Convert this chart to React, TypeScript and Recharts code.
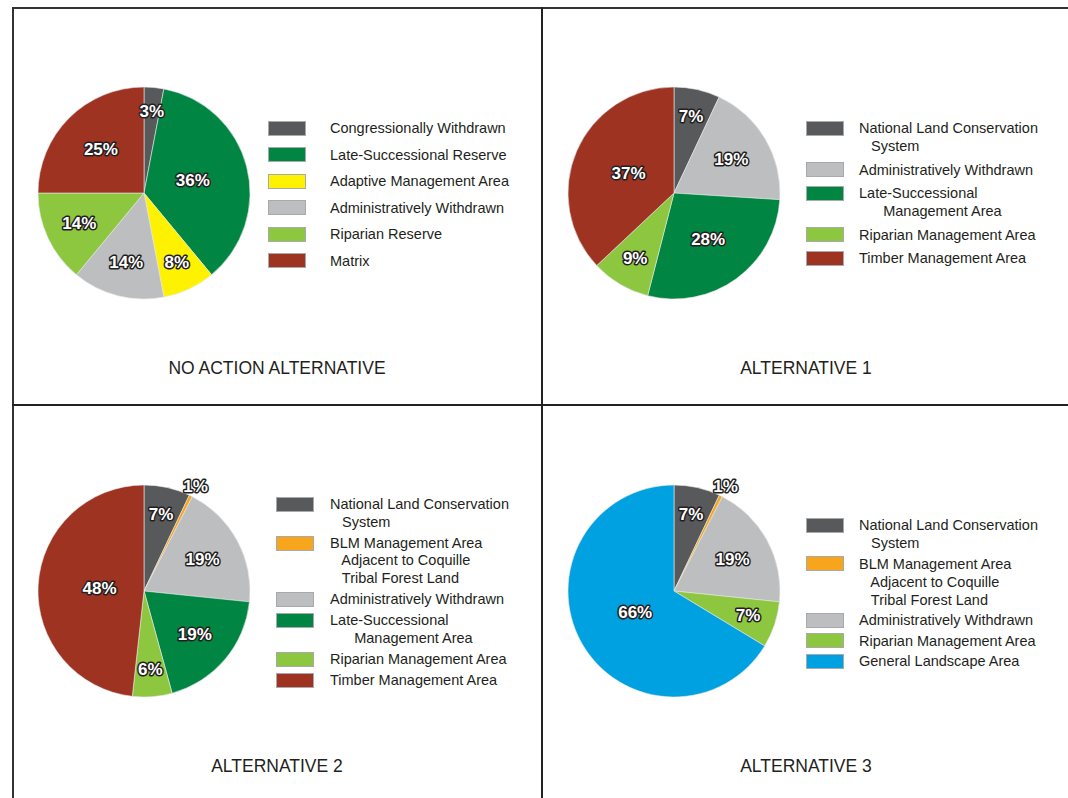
import { PieChart, Pie, Cell, Legend } from "recharts";

// ---- data ----
const noActionNames = [
  "Congressionally Withdrawn",
  "Late-Successional Reserve",
  "Adaptive Management Area",
  "Administratively Withdrawn",
  "Riparian Reserve",
  "Matrix",
];
const noActionValues = [3, 36, 8, 14, 14, 25];
const noActionLabels = ["3%", "36%", "8%", "14%", "14%", "25%"];

const alt1Names = [
  "National Land Conservation\n   System",
  "Administratively Withdrawn",
  "Late-Successional\n      Management Area",
  "Riparian Management Area",
  "Timber Management Area",
];
const alt1Values = [7, 19, 28, 9, 37];
const alt1Labels = ["7%", "19%", "28%", "9%", "37%"];

const alt2Names = [
  "National Land Conservation\n   System",
  "BLM Management Area\n   Adjacent to Coquille\n   Tribal Forest Land",
  "Administratively Withdrawn",
  "Late-Successional\n      Management Area",
  "Riparian Management Area",
  "Timber Management Area",
];
const alt2Values = [7, 0.5, 19, 19, 6, 48];
const alt2Labels = ["7%", "1%", "19%", "19%", "6%", "48%"];

const alt3Names = [
  "National Land Conservation\n   System",
  "BLM Management Area\n   Adjacent to Coquille\n   Tribal Forest Land",
  "Administratively Withdrawn",
  "Riparian Management Area",
  "General Landscape Area",
];
const alt3Values = [7, 0.5, 19, 7, 66];
const alt3Labels = ["7%", "1%", "19%", "7%", "66%"];

const titles = ["NO ACTION ALTERNATIVE", "ALTERNATIVE 1", "ALTERNATIVE 2", "ALTERNATIVE 3"];

// ---- colours ----
const colorFor = (name: string): string => {
  const n = name.replace(/\s+/g, " ");
  if (n.startsWith("Congressionally") || n.startsWith("National")) return "#58595b";
  if (n.startsWith("Late-Successional")) return "#008542";
  if (n.startsWith("Adaptive")) return "#fff200";
  if (n.startsWith("Administratively")) return "#bcbec0";
  if (n.startsWith("Riparian")) return "#8dc63f";
  if (n.startsWith("Matrix") || n.startsWith("Timber")) return "#9e3322";
  if (n.startsWith("BLM")) return "#f7a51c";
  if (n.startsWith("General")) return "#00a1e0";
  return "#999";
};

const RADIAN = Math.PI / 180;
const FONT = "'Liberation Sans', Arial, sans-serif";

const makeLabel = (labels: string[]) => (props: any) => {
  const { cx, cy, midAngle, outerRadius, percent, index } = props;
  const p = percent * 100;
  const frac = p < 2 ? 1.1 : Math.max(0.42, 0.8 - 0.009 * p);
  const r = outerRadius * frac;
  const x = cx + r * Math.cos(-midAngle * RADIAN);
  const y = cy + r * Math.sin(-midAngle * RADIAN);
  return (
    <text
      x={x}
      y={y}
      textAnchor="middle"
      dominantBaseline="central"
      fontFamily={FONT}
      fontWeight="bold"
      fontSize={17}
      fill="#ffffff"
      stroke="#231f20"
      strokeWidth={3}
      strokeLinejoin="round"
      style={{ paintOrder: "stroke" }}
    >
      {labels[index]}
    </text>
  );
};

interface LegendCfg {
  lineHeight: number;
  gap: number;
  textOffset: number;
}

// legend drawn in data order (recharts would sort it by name)
const makeLegend = (names: string[], cfg: LegendCfg) => () => (
  <div style={{ fontFamily: FONT }}>
    {names.map((name, i) => (
      <div key={i} style={{ display: "flex", alignItems: "flex-start", marginBottom: cfg.gap }}>
        <div
          style={{
            width: 38,
            height: 15,
            flex: "none",
            boxSizing: "border-box",
            background: colorFor(name),
            border: "1px solid #a7a9ac",
            marginTop: (cfg.lineHeight - 15) / 2,
            marginRight: cfg.textOffset - 38,
          }}
        />
        <div
          style={{
            whiteSpace: "pre",
            fontSize: 14.5,
            lineHeight: `${cfg.lineHeight}px`,
            color: "#231f20",
          }}
        >
          {name}
        </div>
      </div>
    ))}
  </div>
);

interface PanelProps {
  left: number;
  top: number;
  width: number;
  names: string[];
  values: number[];
  labels: string[];
  title: string;
  legendLeft: number;
  legendTop: number;
  legend: LegendCfg;
  cx: number;
}

function Panel(p: PanelProps) {
  const data = p.names.map((name, i) => ({ name, value: p.values[i] }));
  return (
    <div style={{ position: "absolute", left: p.left, top: p.top, width: p.width, height: 398 }}>
      <PieChart width={p.width} height={398} margin={{ top: 0, right: 0, bottom: 0, left: 0 }}>
        <Pie
          data={data}
          dataKey="value"
          nameKey="name"
          cx={p.cx}
          cy={186}
          outerRadius={106}
          startAngle={90}
          endAngle={-270}
          stroke="#e8e8e8"
          strokeWidth={0.6}
          label={makeLabel(p.labels)}
          labelLine={false}
          isAnimationActive={false}
        >
          {data.map((d, i) => (
            <Cell key={i} fill={colorFor(d.name)} />
          ))}
        </Pie>
        <Legend
          layout="vertical"
          align="right"
          verticalAlign="middle"
          content={makeLegend(p.names, p.legend)}
          wrapperStyle={{ left: p.legendLeft, top: p.legendTop, width: 260, right: "auto", bottom: "auto" }}
        />
      </PieChart>
      <div
        style={{
          position: "absolute",
          left: 65,
          width: 400,
          top: 351,
          textAlign: "center",
          fontFamily: FONT,
          fontSize: 17.5,
          lineHeight: "20px",
          color: "#231f20",
        }}
      >
        {p.title}
      </div>
    </div>
  );
}

export default function App() {
  return (
    <div
      style={{
        position: "absolute",
        left: 0,
        top: 0,
        width: 1068,
        height: 798,
        overflow: "hidden",
        background: "#ffffff",
      }}
    >
      <Panel
        left={12}
        top={7}
        width={529}
        cx={132}
        names={noActionNames}
        values={noActionValues}
        labels={noActionLabels}
        title={titles[0]}
        legendLeft={256}
        legendTop={112}
        legend={{ lineHeight: 18, gap: 8.6, textOffset: 62 }}
      />
      <Panel
        left={541}
        top={7}
        width={527}
        cx={133}
        names={alt1Names}
        values={alt1Values}
        labels={alt1Labels}
        title={titles[1]}
        legendLeft={265}
        legendTop={112}
        legend={{ lineHeight: 18, gap: 5.5, textOffset: 53 }}
      />
      <Panel
        left={12}
        top={405}
        width={529}
        cx={132}
        names={alt2Names}
        values={alt2Values}
        labels={alt2Labels}
        title={titles[2]}
        legendLeft={264}
        legendTop={91}
        legend={{ lineHeight: 17.7, gap: 3.3, textOffset: 54 }}
      />
      <Panel
        left={541}
        top={405}
        width={527}
        cx={133}
        names={alt3Names}
        values={alt3Values}
        labels={alt3Labels}
        title={titles[3]}
        legendLeft={265}
        legendTop={111}
        legend={{ lineHeight: 18, gap: 2.5, textOffset: 53 }}
      />
      {/* frame and dividers */}
      <div style={{ position: "absolute", left: 12, top: 7, width: 1060, height: 1.5, background: "#333" }} />
      <div style={{ position: "absolute", left: 12, top: 7, width: 1.5, height: 800, background: "#333" }} />
      <div style={{ position: "absolute", left: 541, top: 7, width: 2, height: 800, background: "#222" }} />
      <div style={{ position: "absolute", left: 12, top: 404, width: 1060, height: 2, background: "#222" }} />
    </div>
  );
}
